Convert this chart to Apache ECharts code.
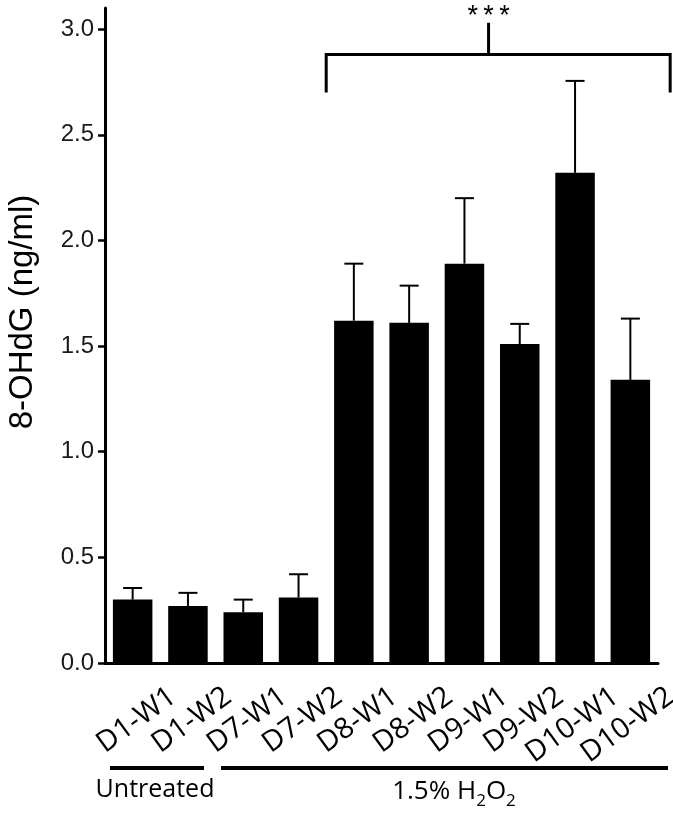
<!DOCTYPE html>
<html><head><meta charset="utf-8">
<script src="https://cdn.jsdelivr.net/npm/echarts@6/dist/echarts.min.js"></script>
<style>html,body{margin:0;padding:0;background:#fff}#c{width:673px;height:817px}</style>
</head><body><div id="c"></div>
<script>
const categories = ['D1-W1','D1-W2','D7-W1','D7-W2','D8-W1','D8-W2','D9-W1','D9-W2','D10-W1','D10-W2'];
const means = [0.30, 0.27, 0.24, 0.31, 1.62, 1.61, 1.89, 1.51, 2.32, 1.34];
const sems  = [0.055, 0.062, 0.06, 0.11, 0.27, 0.176, 0.31, 0.095, 0.435, 0.29];
const yTicks = [0, 0.5, 1.0, 1.5, 2.0, 2.5, 3.0];
const yTitle = '8-OHdG (ng/ml)';
const sigText = '*\u2009*\u2009*';
const sigFromIndex = 4;      // bracket spans D8-W1 ... D10-W2
const sigToIndex = 9;
const bracketLevel = 2.88, bracketLeg = 2.70, bracketStem = 3.03, starLevel = 3.06;
const groupLabels = ['Untreated', '1.5% H2O2'];

const chart = echarts.init(document.getElementById('c'), null, {renderer:'canvas'});
const sans = 'Liberation Sans';
const calib = 'Open Sans';

const option = {
  backgroundColor: '#fff',
  animation: false,
  grid: {left: 105, right: 15, top: 8, bottom: 154, containLabel: false, outerBoundsMode: 'none'},
  xAxis: {
    type: 'category',
    data: categories,
    axisLine: {lineStyle: {color: '#000', width: 3}},
    axisTick: {alignWithLabel: true, length: 7, lineStyle: {color: '#000', width: 2.5}},
    axisLabel: {rotate: 36, align: 'right', verticalAlign: 'middle', margin: 60,
      padding: [0, -50, 0, 0],
      color: '#000', fontFamily: calib, fontSize: 29, interval: 0}
  },
  yAxis: {
    type: 'value', min: 0, max: 3.1, interval: 0.5,
    axisLine: {show: true, lineStyle: {color: '#000', width: 3}},
    axisTick: {show: true, length: 7, lineStyle: {color: '#000', width: 2.5}, customValues: yTicks},
    axisLabel: {customValues: yTicks, margin: 11, color: '#1a1a1a', fontFamily: sans, fontSize: 24,
      formatter: v => v.toFixed(1)},
    splitLine: {show: false}
  },
  series: [
    {type: 'bar', data: means, barWidth: 39.5, itemStyle: {color: '#000'}, z: 2},
    {type: 'custom', z: 3, clip: false,
      data: means.map((m, i) => [i, m, m + sems[i]]),
      renderItem: (params, api) => {
        const p0 = api.coord([api.value(0), api.value(1)]);
        const p1 = api.coord([api.value(0), api.value(2)]);
        const st = {stroke: '#000', lineWidth: 2};
        return {type: 'group', children: [
          {type: 'line', shape: {x1: p0[0], y1: p0[1], x2: p1[0], y2: p1[1]}, style: st},
          {type: 'line', shape: {x1: p1[0] - 9.5, y1: p1[1], x2: p1[0] + 9.5, y2: p1[1]}, style: st}
        ]};
      }
    },
    {type: 'custom', z: 3, clip: false,
      data: [[sigFromIndex, sigToIndex]],
      renderItem: (params, api) => {
        const band = api.size([1, 0])[0];
        const xa = api.coord([api.value(0), 0])[0] - band / 2;
        const xb = api.coord([api.value(1), 0])[0] + band * 0.72;
        const yTop = api.coord([0, bracketLevel])[1];
        const yLeg = api.coord([0, bracketLeg])[1];
        const yStem = api.coord([0, bracketStem])[1];
        const yStar = api.coord([0, starLevel])[1];
        const xm = xa + (xb - xa) * 0.472;
        const st = {stroke: '#000', lineWidth: 3, fill: null};
        return {type: 'group', children: [
          {type: 'polyline', shape: {points: [[xa, yLeg], [xa, yTop], [xb, yTop], [xb, yLeg]]}, style: st},
          {type: 'line', shape: {x1: xm, y1: yTop, x2: xm, y2: yStem}, style: st},
          {type: 'text', style: {text: sigText, x: xm, y: yStar, align: 'center', verticalAlign: 'middle',
            font: '27px "Liberation Sans"', fill: '#000'}}
        ]};
      }
    }
  ],
  graphic: [
    {type: 'text', x: 23, y: 312, rotation: Math.PI / 2, style: {text: yTitle, align: 'center',
      verticalAlign: 'middle', font: '33px "Liberation Sans"', fill: '#000'}},
    {type: 'rect', shape: {x: 110, y: 766, width: 94, height: 4}, style: {fill: '#000'}},
    {type: 'rect', shape: {x: 221, y: 766, width: 447, height: 4}, style: {fill: '#000'}},
    {type: 'text', x: 155, y: 790, style: {text: groupLabels[0], align: 'center', verticalAlign: 'middle',
      font: '25px "Open Sans"', fill: '#000'}},
    {type: 'text', x: 454, y: 792, style: {
      text: '{a|1.5% H}{s|2}{a|O}{s|2}', align: 'center', verticalAlign: 'middle',
      rich: {
        a: {fontFamily: calib, fontSize: 26, color: '#000', lineHeight: 36, verticalAlign: 'middle'},
        s: {fontFamily: calib, fontSize: 17, color: '#000', lineHeight: 17, verticalAlign: 'bottom'}
      }}}
  ]
};
chart.setOption(option);
</script>
</body></html>
